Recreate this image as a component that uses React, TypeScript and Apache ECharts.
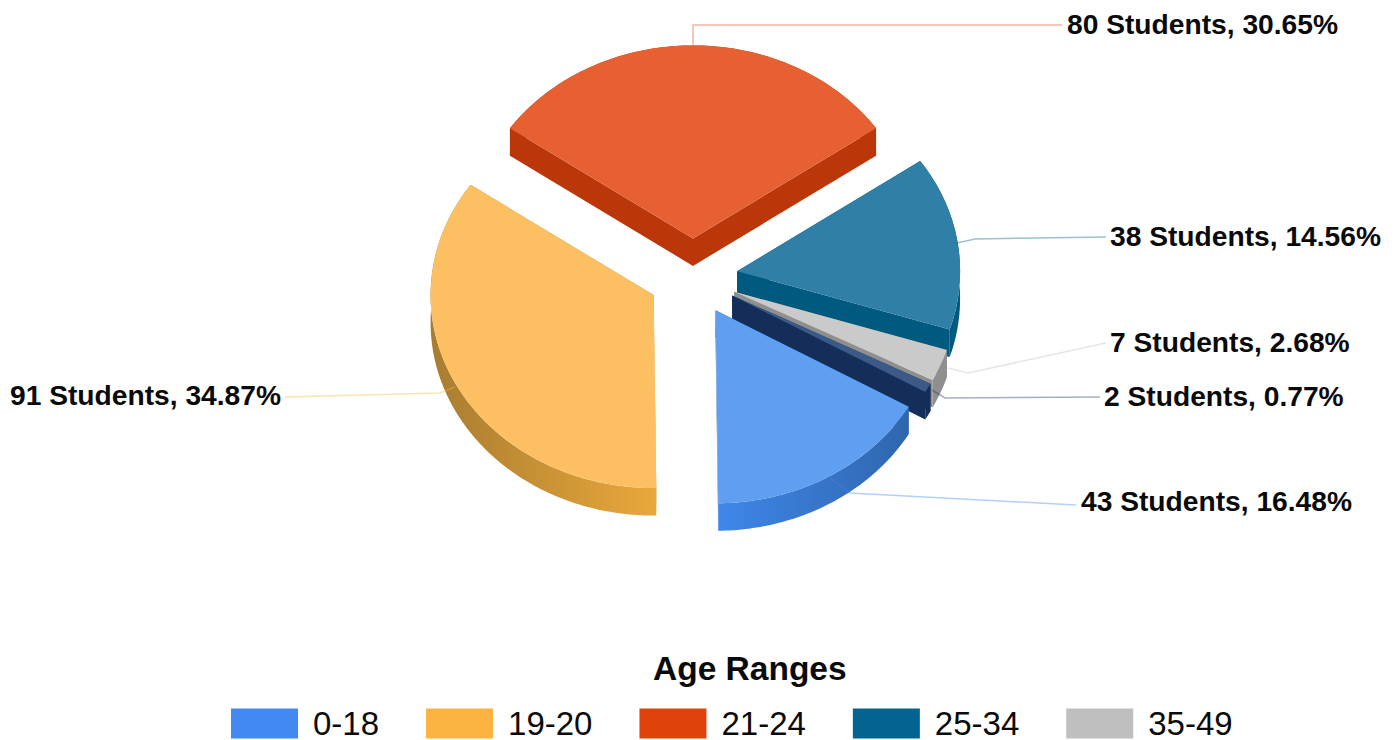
import React, { useEffect, useRef } from "react";
import * as echarts from "echarts";

const categories = ["0-18", "19-20", "21-24", "25-34", "35-49", "50+"];
const students = [43, 91, 80, 38, 7, 2];
const legendCategories = ["0-18", "19-20", "21-24", "25-34", "35-49"];
const legendColors = ["#4289f2", "#fdb342", "#e0420e", "#04648f", "#bfbfbf", "#1a3a6b"];
const topColors = ["#5f9ff1", "#fcc062", "#e66032", "#2f7fa6", "#cacaca", "#3c5a87"];
const edgeColors = ["#2f66ad", "#b5842f", "#bb3609", "#00597f", "#8f8f8f", "#132e58"];
const wallGradients: (string[] | null)[] = [
  ["#3f87ea", "#2f66ad"],
  ["#a87c30", "#eaa83c"],
  null,
  null,
  null,
  null,
];
const paintOrder = [6, 5, 1, 2, 3, 4];
const leaders = [
  [[1076, 505], [850, 493], [830, 478]],
  [[285, 397], [440, 393], [455, 387]],
  [[1062, 25], [693, 25], [693, 45]],
  [[1106, 237], [975, 239], [957, 243]],
  [[1106, 343], [968, 373], [948, 368]],
  [[1100, 397], [945, 398], [932, 390]],
];
const labelAnchors = [
  [1081, 501, "left"],
  [281, 395, "right"],
  [1067, 24, "left"],
  [1110, 236, "left"],
  [1110, 342, "left"],
  [1104, 396, "left"],
];

// clockwise from 12 o'clock, the 21-24 slice is centred on the top
const clockwiseOrder = [2, 3, 4, 5, 0, 1];
const CX = 693;
const CY = 277;
const RX = 223;
const RY = 193;
const DEPTH = 27.5;
const EXPLODE = 0.2;
const LABEL_FONT = 'bold 28.2px "Liberation Sans", Arial, sans-serif';

const total = students.reduce((a, b) => a + b, 0);

function sliceAngles() {
  const out: Record<number, [number, number]> = {};
  let a = -(students[2] / total) * Math.PI;
  clockwiseOrder.forEach((i) => {
    const sweep = (students[i] / total) * Math.PI * 2;
    out[i] = [a, a + sweep];
    a += sweep;
  });
  return out;
}
const angles = sliceAngles();

function buildSlice(i: number) {
  const [a0, a1] = angles[i];
  const mid = (a0 + a1) / 2;
  const ox = CX + Math.sin(mid) * RX * EXPLODE;
  const oy = CY - Math.cos(mid) * RY * EXPLODE;
  const arc: number[][] = [];
  const steps = Math.max(3, Math.ceil((a1 - a0) / (Math.PI / 180)));
  for (let s = 0; s <= steps; s++) {
    const t = a0 + ((a1 - a0) * s) / steps;
    arc.push([ox + Math.sin(t) * RX, oy - Math.cos(t) * RY]);
  }
  const down = (p: number[]) => [p[0], p[1] + DEPTH];
  const first = arc[0];
  const last = arc[arc.length - 1];
  const apex = [ox, oy];
  const xs = arc.map((p) => p[0]);
  const g = wallGradients[i];
  const wallFill = g
    ? new echarts.graphic.LinearGradient(
        Math.min(...xs),
        0,
        Math.max(...xs),
        0,
        [
          { offset: 0, color: g[0] },
          { offset: 1, color: g[1] },
        ],
        true
      )
    : edgeColors[i];

  const poly = (points: number[][], fill: any) => ({
    type: "polygon",
    silent: true,
    shape: { points },
    style: { fill, stroke: null },
  });

  const line = leaders[i];
  return {
    type: "group",
    children: [
      poly([apex, first, down(first), down(apex)], edgeColors[i]),
      poly([apex, last, down(last), down(apex)], edgeColors[i]),
      poly([...arc, ...arc.slice().reverse().map(down)], wallFill),
      poly([apex, ...arc], topColors[i]),
      {
        type: "polyline",
        silent: true,
        shape: { points: line },
        style: { fill: null, stroke: legendColors[i], opacity: 0.4, lineWidth: 1.5 },
      },
    ],
  };
}

function labelElement(i: number) {
  const [x, y, align] = labelAnchors[i];
  return {
    type: "text",
    silent: true,
    z2: 100,
    style: {
      x,
      y,
      text: `${students[i]} Students, ${((students[i] / total) * 100).toFixed(2)}%`,
      font: LABEL_FONT,
      fill: "#0a0a0a",
      align,
      verticalAlign: "middle",
    },
  };
}

export default function App() {
  const ref = useRef<HTMLDivElement>(null);
  useEffect(() => {
    document.body.style.margin = "0";
    document.documentElement.style.overflow = "hidden";
    const chart = echarts.init(ref.current!, undefined, { renderer: "svg" });
    chart.setOption({
      animation: false,
      backgroundColor: "#ffffff",
      tooltip: { show: false },
      title: {
        text: "Age Ranges",
        left: 653,
        top: 651,
        textStyle: {
          fontFamily: '"Liberation Sans", Arial, sans-serif',
          fontWeight: "bold",
          fontSize: 33.5,
          color: "#0a0a0a",
        },
        padding: 0,
      },
      legend: {
        show: true,
        data: legendCategories,
        left: 231,
        top: 707,
        padding: 0,
        icon: "rect",
        itemWidth: 67,
        itemHeight: 30,
        itemGap: 47,
        selectedMode: false,
        textStyle: {
          fontFamily: '"Liberation Sans", Arial, sans-serif',
          fontSize: 33,
          lineHeight: 29,
          color: "#0a0a0a",
          padding: [0, 0, 0, 10],
        },
      },
      series: categories.map((name, i) => ({
        type: "custom",
        name,
        coordinateSystem: "none",
        silent: true,
        z: paintOrder[i],
        itemStyle: { color: legendColors[i] },
        data: [students[i]],
        renderItem: () => ({
          type: "group",
          children: [buildSlice(i), labelElement(i)],
        }),
      })),
    });
    return () => chart.dispose();
  }, []);
  return <div ref={ref} style={{ width: 1396, height: 740 }} />;
}
